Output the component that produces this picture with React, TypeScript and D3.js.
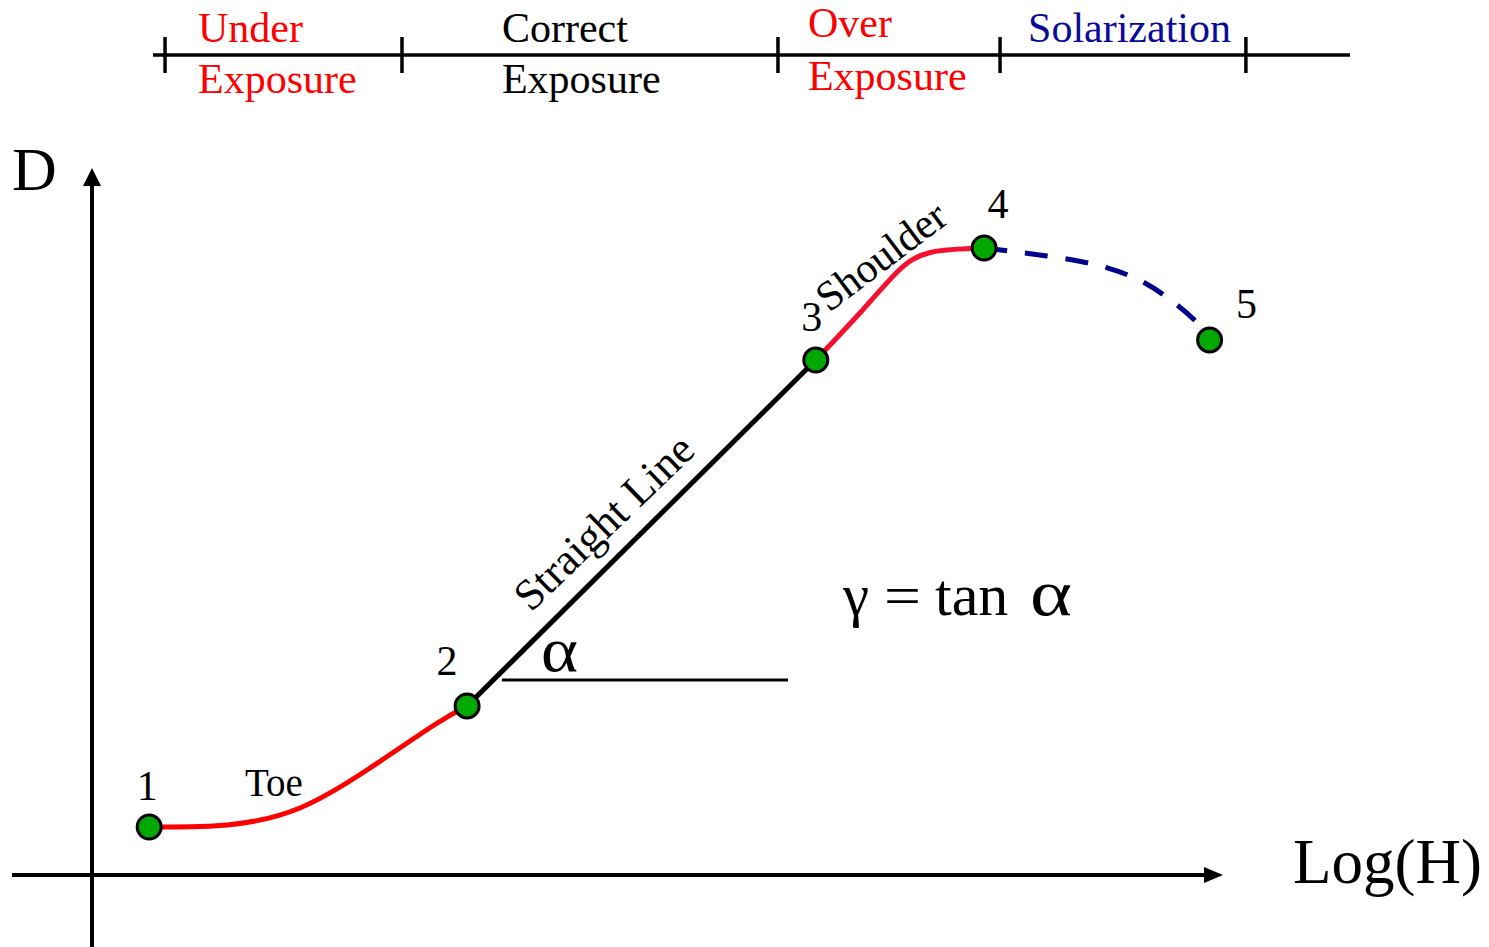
import React from "react";
import * as d3 from "d3";

// ---- data (units: log exposure / density) ----
const keyPoints = [
  { id: "1", x: 0.52, y: 0.32 },
  { id: "2", x: 3.41, y: 1.127 },
  { id: "3", x: 6.58, y: 3.433 },
  { id: "4", x: 8.11, y: 4.18 },
  { id: "5", x: 10.16, y: 3.567 },
];
const toeCurve: [number, number][] = [
  [0.52, 0.32], [1.25, 0.335], [1.89, 0.447], [2.5, 0.7], [3.1, 0.995], [3.41, 1.127],
];
const straightSegment: [number, number][] = [
  [3.41, 1.127], [6.58, 3.433],
];
const shoulderCurve: [number, number][] = [
  [6.58, 3.433], [7.01, 3.77], [7.32, 4.02], [7.62, 4.15], [8.11, 4.18],
];
const solarCurve: [number, number][] = [
  [8.11, 4.18], [8.68, 4.127], [9.1, 4.073], [9.46, 3.987], [9.77, 3.853], [10.05, 3.68], [10.16, 3.567],
];
const regionTicks = [0.664, 2.818, 6.236, 8.255, 10.49];
const regionLabels = [
  { lines: ["Under", "Exposure"], color: "#ff0000" },
  { lines: ["Correct", "Exposure"], color: "#000000" },
  { lines: ["Over", "Exposure"], color: "#ff0000" },
  { lines: ["Solarization"], color: "#0a0a9a" },
];

const FONT = "'Liberation Serif', 'Times New Roman', serif";

export default function App() {
  const W = 1489, H = 947;
  const x = d3.scaleLinear().domain([0, 10]).range([92, 1192]);
  const y = d3.scaleLinear().domain([0, 5]).range([875, 125]);
  const smooth = d3.line<[number, number]>().x(d => x(d[0])).y(d => y(d[1])).curve(d3.curveNatural);
  const lin = d3.line<[number, number]>().x(d => x(d[0])).y(d => y(d[1]));

  const ox = x(0), oy = y(0);

  const labelOffsets = [
    { dx: 33, y1: 42, y2: 93 },
    { dx: 100, y1: 42, y2: 93 },
    { dx: 30, y1: 37, y2: 90 },
    { dx: 28, y1: 42, y2: 93 },
  ];
  const numPos: Record<string, [number, number]> = {
    "1": [-2, -27], "2": [-20, -31], "3": [-4, -29], "4": [14, -30], "5": [37, -22],
  };

  return (
    <svg width={W} height={H} style={{ display: "block", position: "absolute", left: 0, top: 0, background: "#fff" }}>
      <rect width={W} height={H} fill="#fff" />
      {/* top exposure bar */}
      <line x1={153} x2={1350} y1={55} y2={55} stroke="#000" strokeWidth={3.5} />
      {regionTicks.map((t, i) => (
        <line key={i} x1={x(t)} x2={x(t)} y1={37} y2={73} stroke="#000" strokeWidth={3.5} />
      ))}
      {regionLabels.map((r, i) => (
        <g key={i} fontFamily={FONT} fontSize={42} fill={r.color}>
          {r.lines.map((s, j) => (
            <text key={j} x={x(regionTicks[i]) + labelOffsets[i].dx} y={j === 0 ? labelOffsets[i].y1 : labelOffsets[i].y2}>{s}</text>
          ))}
        </g>
      ))}

      {/* axes */}
      <line x1={ox} x2={ox} y1={947} y2={184} stroke="#000" strokeWidth={4} />
      <path d={`M${ox},168 L${ox - 9},186 L${ox + 9},186 Z`} fill="#000" />
      <line x1={12} x2={1205} y1={oy} y2={oy} stroke="#000" strokeWidth={4} />
      <path d={`M1223,${oy} L1204,${oy - 8} L1204,${oy + 8} Z`} fill="#000" />
      <text x={12} y={190} fontFamily={FONT} fontSize={62} fill="#000">D</text>
      <text x={1293} y={883} fontFamily={FONT} fontSize={63} fill="#000">Log(H)</text>

      {/* curve */}
      <path d={smooth(toeCurve) || ""} fill="none" stroke="#ff0000" strokeWidth={5} />
      <path d={lin(straightSegment) || ""} fill="none" stroke="#000" strokeWidth={5} />
      <path d={smooth(shoulderCurve) || ""} fill="none" stroke="#f5102e" strokeWidth={5} />
      <path d={smooth(solarCurve) || ""} fill="none" stroke="#000090" strokeWidth={5} strokeDasharray="23 18" />

      {/* angle construction */}
      <line x1={502} x2={788} y1={680} y2={680} stroke="#000" strokeWidth={3} />
      <text x={541} y={671} fontFamily={FONT} fontSize={64} fill="#000" textLength={37} lengthAdjust="spacingAndGlyphs">α</text>
      <g fontFamily={FONT} fill="#000">
        <text x={843} y={615} fontSize={60} textLength={26} lengthAdjust="spacingAndGlyphs">γ</text>
        <text x={884} y={615} fontSize={56} textLength={37} lengthAdjust="spacingAndGlyphs">=</text>
        <text x={935} y={615} fontSize={60}>tan</text>
        <text x={1030} y={615} fontSize={66} textLength={42} lengthAdjust="spacingAndGlyphs">α</text>
      </g>

      {/* labels along curve */}
      <text x={245} y={796} fontFamily={FONT} fontSize={39} fill="#000">Toe</text>
      <text transform="translate(531,613) rotate(-44)" fontFamily={FONT} fontSize={44} fill="#000">Straight Line</text>
      <text transform="translate(829,313) rotate(-37)" fontFamily={FONT} fontSize={42} fill="#000">Shoulder</text>

      {/* key points */}
      {keyPoints.map(p => (
        <g key={p.id}>
          <circle cx={x(p.x)} cy={y(p.y)} r={12} fill="#00a800" stroke="#000" strokeWidth={3} />
          <text x={x(p.x) + numPos[p.id][0]} y={y(p.y) + numPos[p.id][1]} fontFamily={FONT} fontSize={42} fill="#000" textAnchor="middle">{p.id}</text>
        </g>
      ))}
    </svg>
  );
}
